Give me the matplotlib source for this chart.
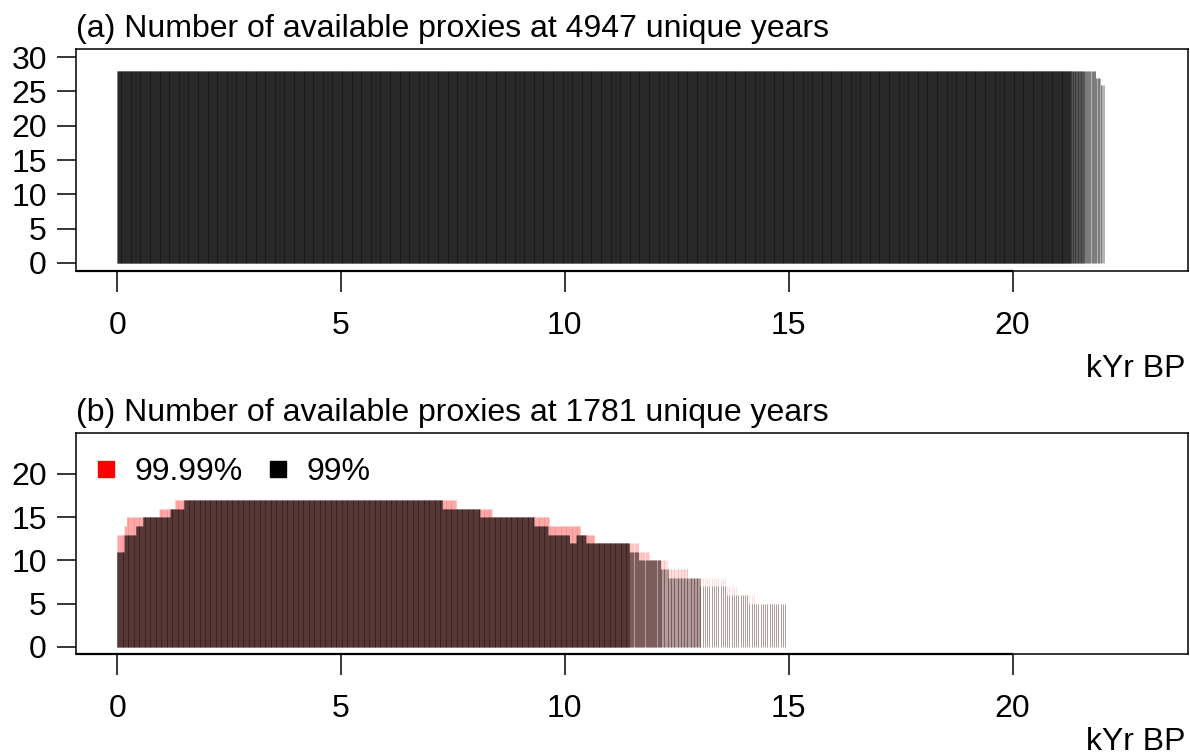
import numpy as np
import matplotlib
matplotlib.use('Agg')
import matplotlib.pyplot as plt
from matplotlib.lines import Line2D

plt.rcParams['font.family'] = ['Liberation Sans', 'DejaVu Sans']

a_seg_start = [0.00, 21.30, 21.60, 21.86, 21.97]
a_seg_end = [21.30, 21.60, 21.86, 21.97, 22.05]
a_seg_nyears = [4867, 45, 22, 8, 5]
a_seg_count = [28, 28, 28, 27, 26]

# ---- panel (b): 1781 unique years
b_seg_start = [0.00, 11.44, 12.14, 13.03]
b_seg_end = [11.44, 12.14, 13.03, 14.97]
b_seg_nyears = [1630, 60, 52, 39]

# 99% confidence: step breaks (kyr) and number of proxies
b99_breaks = [0.00, 0.16, 0.42, 0.57, 1.18, 1.49, 7.26, 8.10, 9.31, 9.62,
              10.10, 10.25, 10.47, 11.44, 11.65, 12.14, 12.31, 13.03, 13.62, 14.10]
b99_levels = [11, 13, 14, 15, 16, 17, 16, 15, 14, 13,
              12, 13, 12, 11, 10, 9, 8, 7, 6, 5]
# 99.99% confidence
b9999_breaks = [0.00, 0.16, 0.21, 0.94, 1.29, 7.57, 8.37, 9.65, 10.34, 10.66,
                11.65, 11.88, 12.29, 12.74, 13.62, 13.87, 14.25]
b9999_levels = [13, 14, 15, 16, 17, 16, 15, 14, 13, 12,
                11, 10, 9, 8, 7, 6, 5]

title_a = '(a) Number of available proxies at 4947 unique years'
title_b = '(b) Number of available proxies at 1781 unique years'
xticks = [0, 5, 10, 15, 20]


def expand_years(starts, ends, nyears):
    return np.concatenate([np.linspace(s, e, n, endpoint=False)
                           for s, e, n in zip(starts, ends, nyears)])


def step_count(years, breaks, levels):
    idx = np.searchsorted(breaks, years, side='right') - 1
    return np.asarray(levels)[idx]


years_a = expand_years(a_seg_start, a_seg_end, a_seg_nyears)
count_a = np.repeat(a_seg_count, a_seg_nyears)

years_b = expand_years(b_seg_start, b_seg_end, b_seg_nyears)
count_b99 = step_count(years_b, b99_breaks, b99_levels)
count_b9999 = step_count(years_b, b9999_breaks, b9999_levels)

FS = 23
XLIM = (-0.92, 23.92)


def style(ax, ylim, yticks, title, xlab_off):
    ax.set_xlim(*XLIM)
    ax.set_ylim(*ylim)
    ax.set_xticks(xticks)
    ax.set_yticks(yticks)
    ax.tick_params(axis='x', length=15, width=1.1, pad=14, labelsize=FS)
    ax.tick_params(axis='y', length=14, width=1.1, pad=7, labelsize=FS)
    for s in ax.spines.values():
        s.set_linewidth(1.1)
    # R style axis line along the bottom
    ax.plot([XLIM[0], xticks[-1]], [ylim[0], ylim[0]], color='k', lw=1.6,
            clip_on=False, solid_capstyle='butt')
    ax.set_title(title, loc='left', fontsize=FS, pad=8.6)
    ax.annotate('kYr BP', xy=(1, 0), xycoords='axes fraction',
                xytext=(-2, xlab_off), textcoords='offset points',
                ha='right', va='baseline', fontsize=FS)


fig = plt.figure(figsize=(11.9, 7.55), dpi=100)
W, H = 1190, 755
ax_a = fig.add_axes([76 / W, 1 - 271 / H, 1112 / W, 222 / H])
ax_b = fig.add_axes([76 / W, 1 - 654 / H, 1112 / W, 221 / H])

ax_a.vlines(years_a, 0, count_a, colors='black', alpha=0.3, linewidth=0.72)
style(ax_a, (-1.2, 31.2), [0, 5, 10, 15, 20, 25, 30], title_a, -76)

ax_b.vlines(years_b, 0, count_b9999, colors='red', alpha=0.13, linewidth=0.72)
ax_b.vlines(years_b, 0, count_b99, colors='black', alpha=0.3, linewidth=0.72)
style(ax_b, (-0.81, 24.74), [0, 5, 10, 15, 20], title_b, -69)

handles = [Line2D([], [], ls='none', marker='s', ms=11, color='red'),
           Line2D([], [], ls='none', marker='s', ms=11, color='black')]
ax_b.legend(handles, ['99.99%', '99%'], ncol=2, loc='center left',
            bbox_to_anchor=(0.0153, 0.8235), frameon=False, borderpad=0,
            borderaxespad=0, handlelength=0.8, handletextpad=0.5,
            columnspacing=0.7, fontsize=FS)

fig.savefig('out.png', dpi=100)
